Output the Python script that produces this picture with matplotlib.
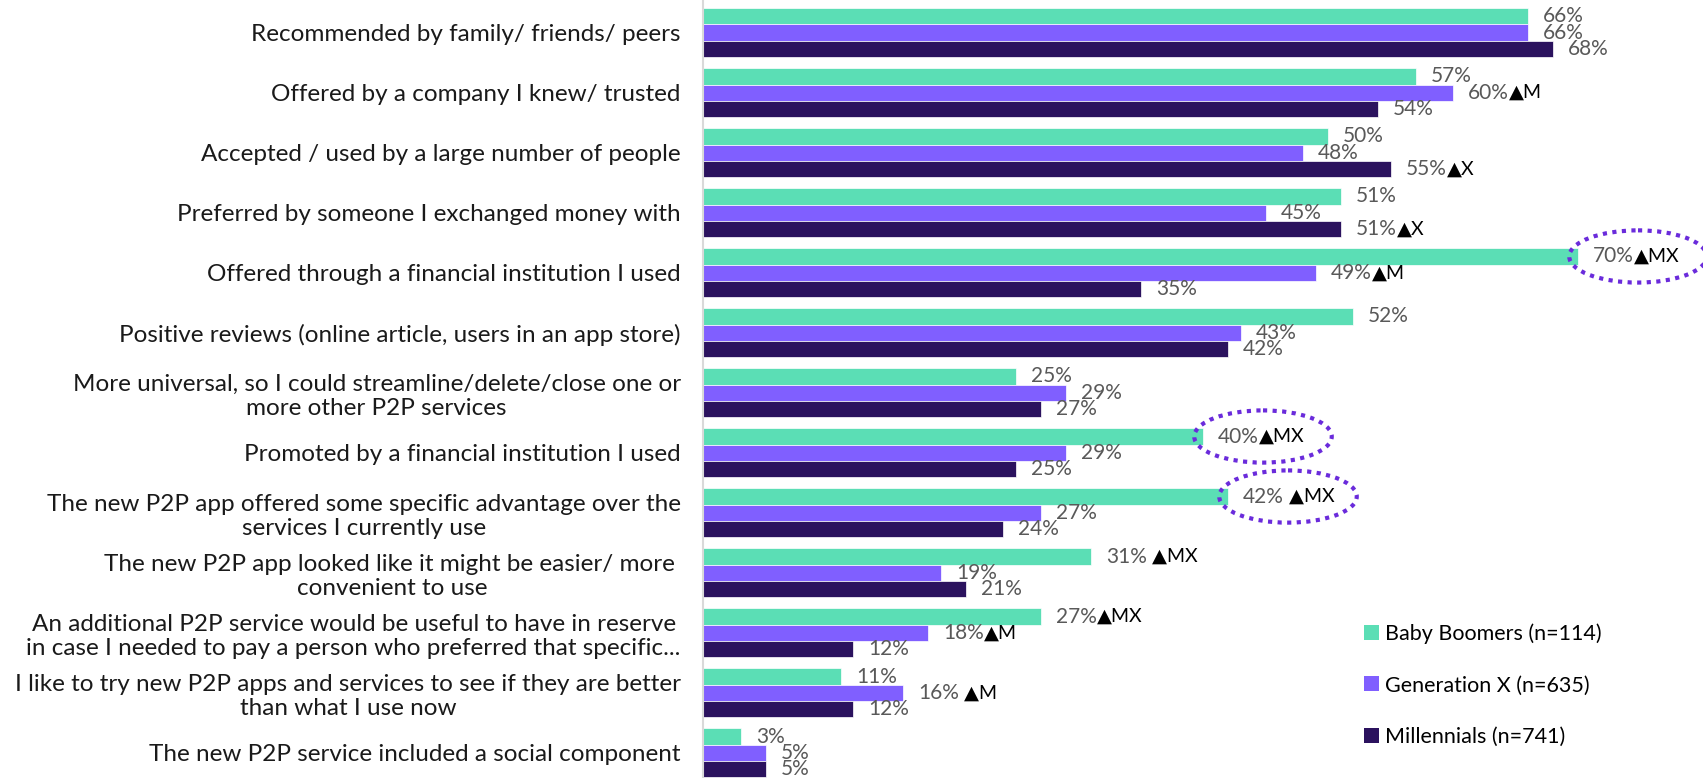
import matplotlib.pyplot as plt
import numpy as np
from matplotlib.patches import Ellipse

plt.rcParams["font.family"] = ["Lato", "DejaVu Sans"]

categories = [
    "Recommended by family/ friends/ peers",
    "Offered by a company I knew/ trusted",
    "Accepted / used by a large number of people",
    "Preferred by someone I exchanged money with",
    "Offered through a financial institution I used",
    "Positive reviews (online article, users in an app store)",
    "More universal, so I could streamline/delete/close one or\nmore other P2P services",
    "Promoted by a financial institution I used",
    "The new P2P app offered some specific advantage over the\nservices I currently use",
    "The new P2P app looked like it might be easier/ more \nconvenient to use",
    "An additional P2P service would be useful to have in reserve\nin case I needed to pay a person who preferred that specific...",
    "I like to try new P2P apps and services to see if they are better\nthan what I use now",
    "The new P2P service included a social component",
]
series_names = ["Baby Boomers (n=114)", "Generation X (n=635)", "Millennials (n=741)"]
boomers = [66, 57, 50, 51, 70, 52, 25, 40, 42, 31, 27, 11, 3]
gen_x = [66, 60, 48, 45, 49, 43, 29, 29, 27, 19, 18, 16, 5]
millennials = [68, 54, 55, 51, 35, 42, 27, 25, 24, 21, 12, 12, 5]
boomers_sig = ["", "", "", "", "▲MX", "", "", "▲MX", " ▲MX", " ▲MX", "▲MX", "", ""]
gen_x_sig = ["", "▲M", "", "", "▲M", "", "", "", "", "", "▲M", " ▲M", ""]
millennials_sig = ["", "", "▲X", "▲X", "", "", "", "", "", "", "", "", ""]
circled = [4, 7, 8]  # boomer labels circled

colors = ["#5BDEB5", "#805FFF", "#2B125E"]
values = [boomers, gen_x, millennials]
sigs = [boomers_sig, gen_x_sig, millennials_sig]

fig = plt.figure(figsize=(17.03, 7.78), dpi=100)
ax = fig.add_axes([703 / 1703, 0, 1 - 703 / 1703, 1])

y = np.arange(len(categories))
h = 0.27
for k in range(3):
    ypos = y + (k - 1) * h
    ax.barh(ypos, values[k], height=h, color=colors[k], edgecolor="white",
            linewidth=0.5, label=series_names[k])
    for yi, v, s in zip(ypos, values[k], sigs[k]):
        t = ax.annotate(f"{v}%", (v, yi), xytext=(11, 0), textcoords="offset points",
                        ha="left", va="center", fontsize=15, color="#595959")
        if s:
            ax.annotate(s, xy=(1, 0.5), xycoords=t, xytext=(0, 0),
                        textcoords="offset points", ha="left", va="center",
                        fontsize=14, color="black")

for i in circled:
    e = Ellipse((boomers[i] + 4.8, y[i] - h), width=11, height=0.87, fill=False,
                edgecolor="#6A2BDB", linewidth=3, linestyle=(0, (1, 1.3)),
                clip_on=False)
    ax.add_patch(e)

ax.set_xlim(0, 80)
ax.set_ylim(12.42, -0.543)
ax.set_yticks(y)
ax.set_yticklabels(categories, fontsize=17.5, color="#1a1a1a", linespacing=1.2,
                   multialignment="center")
ax.tick_params(axis="y", length=0, pad=16)
ax.set_xticks([])
for side in ["top", "right", "bottom"]:
    ax.spines[side].set_visible(False)
ax.spines["left"].set_color("#d9d9d9")
ax.spines["left"].set_linewidth(1.5)

leg = ax.legend(loc="upper left", bbox_to_anchor=(1355 / 1703, 163 / 778),
                bbox_transform=fig.transFigure, frameon=False, fontsize=15.5,
                handlelength=0.7, handleheight=0.7, handletextpad=0.3,
                labelspacing=1.45, borderaxespad=0)
for p in leg.get_patches():
    p.set_edgecolor("none")

fig.savefig("out.png", dpi=100)
